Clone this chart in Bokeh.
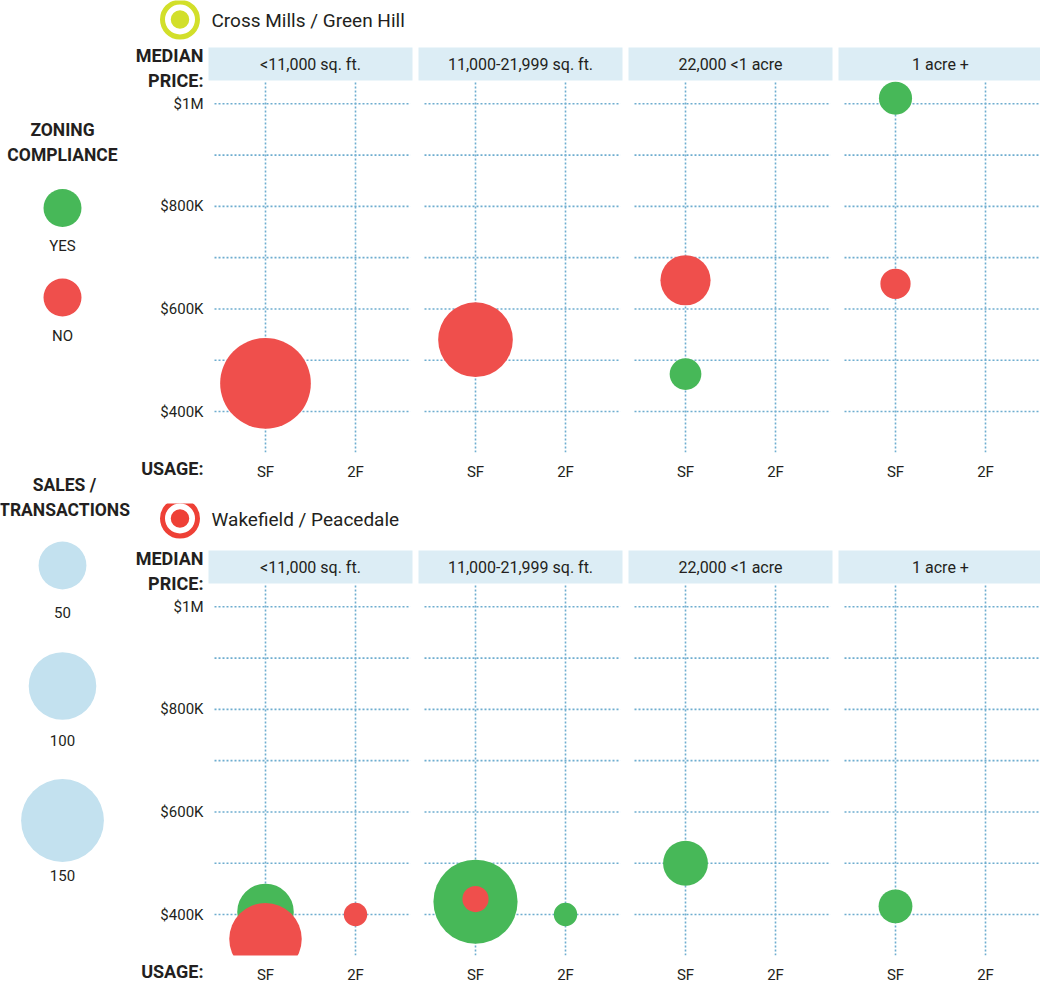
import math
from bokeh.plotting import figure
from bokeh.models import ColumnDataSource, FixedTicker, Range1d
from bokeh.layouts import row, column
from bokeh.core.properties import value
from bokeh.embed import file_html
from bokeh.resources import INLINE

# ---------------- data ----------------
lot_sizes = ["<11,000 sq. ft.", "11,000-21,999 sq. ft.", "22,000 <1 acre", "1 acre +"]
usages = ["SF", "2F"]
price_ticks = [400, 600, 800, 1000]            # median price, $ thousands
price_tick_labels = ["$400K", "$600K", "$800K", "$1M"]
grid_prices = [400, 500, 600, 700, 800, 900, 1000]

# Cross Mills / Green Hill
cm_lot = ["<11,000 sq. ft.", "11,000-21,999 sq. ft.", "22,000 <1 acre",
          "22,000 <1 acre", "1 acre +", "1 acre +"]
cm_usage = ["SF", "SF", "SF", "SF", "SF", "SF"]
cm_compliance = ["NO", "NO", "NO", "YES", "YES", "NO"]
cm_price = [455, 540, 656, 473, 1011, 649]
cm_sales = [180, 122, 55, 22, 24, 20]

# Wakefield / Peacedale
wp_lot = ["<11,000 sq. ft.", "<11,000 sq. ft.", "<11,000 sq. ft.",
          "11,000-21,999 sq. ft.", "11,000-21,999 sq. ft.", "11,000-21,999 sq. ft.",
          "22,000 <1 acre", "1 acre +"]
wp_usage = ["SF", "SF", "2F", "SF", "SF", "2F", "SF", "SF"]
wp_compliance = ["YES", "NO", "NO", "YES", "NO", "YES", "YES", "YES"]
wp_price = [405, 352, 400, 425, 430, 400, 500, 416]
wp_sales = [70, 115, 12, 155, 15, 12, 44, 25]

legend_compliance = ["YES", "NO"]
legend_sales = [50, 100, 150]

# ---------------- style / layout ----------------
FONT = "Roboto"
INK = "#231f20"
GREEN = "#47b858"
RED = "#ef4f4c"
BAND = "#dcedf5"
GRID = "#6eadcf"
LBLUE = "#c3e1ef"
COLOR = {"YES": GREEN, "NO": RED}

LEG_W = 132
COL_STEP = 14                       # x units between lot-size columns
USE_OFF = {"SF": -3, "2F": 3}       # x offset of usage inside a column
Y_MIN = 320                         # bottom of the plotting area ($K)


def xd(px):   # page pixel -> panel x units
    return (px - 310) / 15.0


def yd(py):   # panel pixel -> price ($K)
    return 400 + (411 - py) / 0.5128


def diam(n):  # sales count -> bubble diameter (area proportional)
    return 2 * 3.38 * math.sqrt(n)


def panel(title, ring, lots, uses, comp, prices, sales, height, title_py):
    p = figure(width=1040 - LEG_W, height=height,
               x_range=Range1d(xd(LEG_W), xd(1040)), y_range=Range1d(yd(height), yd(0)),
               output_backend="svg", toolbar_location=None,
               min_border_left=0, min_border_right=0, min_border_top=0,
               min_border_bottom=0)
    p.outline_line_color = None
    p.xgrid.visible = False
    p.ygrid.visible = False

    centers = [i * COL_STEP for i in range(len(lot_sizes))]
    # header bands
    p.quad(left=[c - 6.8 for c in centers], right=[c + 6.8 for c in centers],
           bottom=yd(80), top=yd(47), fill_color=BAND, line_color=None)
    p.text(x=centers, y=[yd(63.5)] * len(centers), text=lot_sizes,
           text_font=value(FONT), text_font_size="16px", text_color=INK,
           text_align="center", text_baseline="middle")

    # dotted grid
    hx0, hx1, hy = [], [], []
    for c in centers:
        for g in grid_prices:
            hx0.append(c - 6.4)
            hx1.append(c + 6.67)
            hy.append(g)
    p.segment(x0=hx0, y0=hy, x1=hx1, y1=hy, line_color=GRID, line_width=1.6,
              line_dash="2 2")
    vx = [c + USE_OFF[u] for c in centers for u in usages]
    p.segment(x0=vx, y0=[Y_MIN] * len(vx), x1=vx, y1=[yd(80)] * len(vx),
              line_color=GRID, line_width=1.6, line_dash="2 2")

    # bubbles: compliant first, non-compliant drawn on top
    for flag in ["YES", "NO"]:
        idx = [i for i, c in enumerate(comp) if c == flag]
        src = ColumnDataSource(dict(
            x=[lot_sizes.index(lots[i]) * COL_STEP + USE_OFF[uses[i]] for i in idx],
            price=[prices[i] for i in idx],
            size=[diam(sales[i]) for i in idx]))
        p.scatter("x", "price", size="size", source=src, fill_color=COLOR[flag],
                  line_color=None)

    # plotting area ends at Y_MIN: blank out anything below it
    p.quad(left=[xd(LEG_W)], right=[xd(1040)], bottom=[yd(height)], top=[Y_MIN],
           fill_color="white", line_color=None)

    # title with ring icon
    p.scatter([xd(179.5)], [yd(title_py - 1)], size=35, fill_color=None,
              line_color=ring, line_width=5)
    p.scatter([xd(179.5)], [yd(title_py - 1)], size=18.5, fill_color=ring,
              line_color=None)
    p.text(x=[xd(211)], y=[yd(title_py)], text=[title], text_font=value(FONT),
           text_font_size="19px", text_color=INK, text_align="left",
           text_baseline="middle")
    p.text(x=[xd(203)], y=[yd(67.5)], text=["MEDIAN\nPRICE:"], text_font=value(FONT),
           text_font_size="18px", text_font_style="bold", text_color=INK,
           text_align="right", text_baseline="middle", text_line_height=1.15)
    p.text(x=[xd(203)], y=[yd(468)], text=["USAGE:"], text_font=value(FONT),
           text_font_size="18px", text_font_style="bold", text_color=INK,
           text_align="right", text_baseline="middle")

    # y axis (price)
    ya = p.yaxis[0]
    ya.fixed_location = xd(208)
    ya.ticker = FixedTicker(ticks=price_ticks)
    ya.major_label_overrides = dict(zip(price_ticks, price_tick_labels))
    ya.axis_line_color = None
    ya.major_tick_line_color = None
    ya.minor_tick_line_color = None
    ya.major_tick_out = 0
    ya.major_tick_in = 0
    ya.major_label_standoff = 5
    ya.major_label_text_font = FONT
    ya.major_label_text_font_size = "15px"
    ya.major_label_text_color = INK

    # x axis (usage)
    xa = p.xaxis[0]
    xa.fixed_location = Y_MIN
    xa.ticker = FixedTicker(ticks=vx)
    xa.major_label_overrides = {c + USE_OFF[u]: u for c in centers for u in usages}
    xa.axis_line_color = None
    xa.major_tick_line_color = None
    xa.minor_tick_line_color = None
    xa.major_tick_out = 0
    xa.major_tick_in = 0
    xa.major_label_standoff = 10
    xa.major_label_text_font = FONT
    xa.major_label_text_font_size = "15px"
    xa.major_label_text_color = INK
    return p


top = panel("Cross Mills / Green Hill", "#d2df2a", cm_lot, cm_usage, cm_compliance,
            cm_price, cm_sales, 503, 20)
bottom = panel("Wakefield / Peacedale", "#ee4036", wp_lot, wp_usage, wp_compliance,
               wp_price, wp_sales, 484, 16)

# ---------------- left legend ----------------
lg = figure(width=LEG_W, height=987, x_range=Range1d(0, LEG_W), y_range=Range1d(987, 0),
            output_backend="svg", toolbar_location=None, x_axis_type=None,
            y_axis_type=None, min_border_left=0, min_border_right=0,
            min_border_top=0, min_border_bottom=0)
lg.outline_line_color = None
lg.xgrid.visible = False
lg.ygrid.visible = False

lg.text(x=[62, 64], y=[142, 497], text=["ZONING\nCOMPLIANCE", "SALES /\nTRANSACTIONS"],
        text_font=value(FONT), text_font_size="17.5px", text_font_style="bold",
        text_color=INK, text_align="center", text_baseline="middle",
        text_line_height=1.25)

comp_y = [207.5, 297]
lg.scatter(x=[62] * len(legend_compliance), y=comp_y, size=38,
           fill_color=[COLOR[c] for c in legend_compliance], line_color=None)
lg.text(x=[62] * len(legend_compliance), y=[245, 335], text=legend_compliance,
        text_font=value(FONT), text_font_size="15px", text_color=INK,
        text_align="center", text_baseline="middle")

sales_y = [565, 685.5, 820]
lg.scatter(x=[62] * len(legend_sales), y=sales_y, size=[diam(n) for n in legend_sales],
           fill_color=LBLUE, line_color=None)
lg.text(x=[62] * len(legend_sales), y=[611.5, 740, 875],
        text=[str(n) for n in legend_sales], text_font=value(FONT),
        text_font_size="15px", text_color=INK, text_align="center",
        text_baseline="middle")

page = row(lg, column(top, bottom))
open("out.html", "w").write(file_html(page, INLINE))
